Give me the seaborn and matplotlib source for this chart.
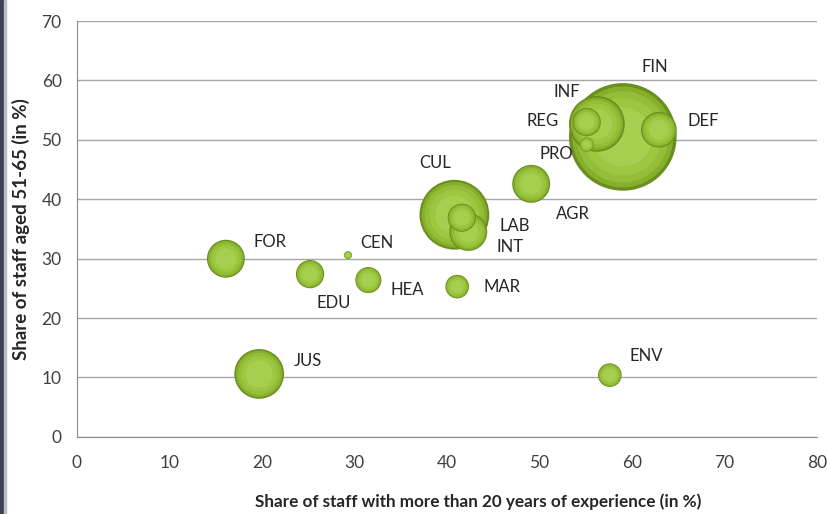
import numpy as np
import pandas as pd
import matplotlib.pyplot as plt
import seaborn as sns
from matplotlib.patches import Rectangle

# data
codes = ['FOR', 'EDU', 'CEN', 'HEA', 'MAR', 'JUS', 'ENV', 'CUL', 'INT', 'LAB',
         'AGR', 'FIN', 'INF', 'DEF', 'REG', 'PRO']
experience = [16.1, 25.2, 29.3, 31.5, 41.1, 19.7, 57.6, 40.8, 42.3, 41.6,
              49.1, 59.0, 56.2, 62.9, 55.1, 55.1]
aged_51_65 = [30.0, 27.4, 30.6, 26.4, 25.3, 10.6, 10.4, 37.4, 34.5, 36.9,
              42.6, 50.5, 52.7, 51.7, 53.0, 49.2]
staff = [36, 20, 1.6, 17, 14, 62, 14, 122, 36, 20,
         36, 290, 78, 32, 20, 5]

x_ticks = [0, 10, 20, 30, 40, 50, 60, 70, 80]
y_ticks = [0, 10, 20, 30, 40, 50, 60, 70]

# label offsets (points) relative to bubble centre
label_off = {
    'FOR': (32, 12), 'CEN': (21, 9), 'EDU': (17, -21), 'HEA': (28, -7),
    'MAR': (32, 0), 'JUS': (35, 9), 'ENV': (26, 14), 'CUL': (-14, 37),
    'LAB': (38, -6), 'INT': (30, -11), 'AGR': (30, -22), 'PRO': (-22, -7),
    'REG': (-32, 1), 'INF': (-22, 23), 'FIN': (23, 50), 'DEF': (32, 6),
}

df = pd.DataFrame({'code': codes, 'x': experience, 'y': aged_51_65, 'staff': staff})
# draw big bubbles first so small ones stay visible
df = df.sort_values('staff', ascending=False).reset_index(drop=True)

sns.set_style('white')
plt.rcParams['font.family'] = ['Lato', 'DejaVu Sans']

fig, ax = plt.subplots(figsize=(8.27, 5.14), dpi=100)
fig.subplots_adjust(left=0.093, right=0.988, bottom=0.15, top=0.959)

k = 20.7  # area points^2 per staff unit
smin, smax = df['staff'].min(), df['staff'].max()

# fake 3d shading: stacked layers, each shrinking and lightening
layers = [(1.0, '#6a8f1f'), (0.88, '#86b02c'), (0.72, '#93be38'),
          (0.52, '#9cc741'), (0.30, '#a6cf4f')]
for i in range(len(df)):
    one = df.iloc[[i]]
    for frac, col in layers:
        sns.scatterplot(data=one, x='x', y='y', size='staff',
                        sizes=(k * smin * frac, k * smax * frac),
                        size_norm=(smin, smax), color=col,
                        edgecolor='none', linewidth=0, legend=False,
                        ax=ax, zorder=3)

for _, row in df.iterrows():
    dx, dy = label_off[row['code']]
    ax.annotate(row['code'], (row['x'], row['y']), xytext=(dx, dy),
                textcoords='offset points', ha='center', va='center',
                fontsize=12, color='#262626', zorder=5)

ax.set_xlim(0, 80)
ax.set_ylim(0, 70)
ax.set_xticks(x_ticks)
ax.set_yticks(y_ticks)
ax.grid(axis='y', color='#a6a6a6', linewidth=1)
ax.set_axisbelow(True)
for s in ['top', 'right']:
    ax.spines[s].set_visible(False)
for s in ['left', 'bottom']:
    ax.spines[s].set_color('#8c8c8c')
ax.tick_params(axis='both', direction='out', length=5, color='#8c8c8c',
               labelsize=12.5, labelcolor='#404040', pad=6)
ax.tick_params(axis='x', pad=8)

ax.set_xlabel('Share of staff with more than 20 years of experience (in %)',
              fontsize=12.3, fontweight='bold', color='#262626')
ax.xaxis.set_label_coords(0.542, -0.135)
ax.set_ylabel('Share of staff aged 51-65 (in %)',
              fontsize=13.5, fontweight='bold', color='#262626', labelpad=8)

# dark frame strip on the left edge
fig.patches.append(Rectangle((0, 0), 0.005, 1, transform=fig.transFigure,
                             color='#3b4152', zorder=10))
fig.patches.append(Rectangle((0.005, 0), 0.002, 1, transform=fig.transFigure,
                             color='#b8bcc4', zorder=10))

plt.savefig('out.png', dpi=100)
